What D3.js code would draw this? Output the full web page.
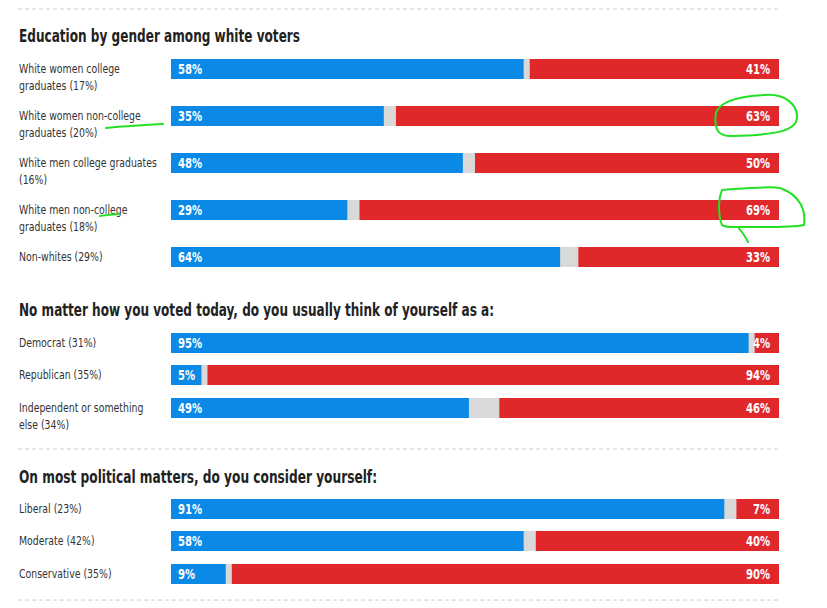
<!DOCTYPE html>
<html><head><meta charset="utf-8">
<script src="https://cdn.jsdelivr.net/npm/d3@7"></script>
<style>body{margin:0;background:#fff} text{font-stretch:condensed}</style></head>
<body><svg id="c" width="827" height="608"></svg>
<script>
const sections = ["Education by gender among white voters","No matter how you voted today, do you usually think of yourself as a:","On most political matters, do you consider yourself:"];
const labels = [
 [["White women college","graduates (17%)"],["White women non-college","graduates (20%)"],["White men college graduates","(16%)"],["White men non-college","graduates (18%)"],["Non-whites (29%)"]],
 [["Democrat (31%)"],["Republican (35%)"],["Independent or something","else (34%)"]],
 [["Liberal (23%)"],["Moderate (42%)"],["Conservative (35%)"]]
];
const dem = [[58,35,48,29,64],[95,5,49],[91,58,9]];
const rep = [[41,63,50,69,33],[4,94,46],[7,40,90]];
const barTops = [[59,106,153,200,247],[333,365,398],[499,531,564]];
const titleY = [36,310,477];
const dashY = [9,449,600];
const titleW = [281,475,358];

const svg = d3.select("#c");
const font = "'DejaVu Sans Condensed','Liberation Sans Narrow','DejaVu Sans',sans-serif";
const x = d3.scaleLinear().domain([0,100]).range([171,779]);
const bh = 20;

// condense a text by its measured width, ratio r
function squeeze(sel, r){ sel.each(function(){ const w=this.getComputedTextLength(); d3.select(this).attr("textLength",w*r).attr("lengthAdjust","spacingAndGlyphs"); }); }

dashY.forEach(y=>svg.append("line").attr("x1",18).attr("x2",780).attr("y1",y).attr("y2",y)
  .attr("stroke","#ccc").attr("stroke-dasharray","4,3"));

sections.forEach((t,si)=>{
  svg.append("text").attr("x",19).attr("y",titleY[si]+6).text(t)
    .attr("font-family",font).attr("font-size",18).attr("font-weight","bold").attr("fill","#222")
    .attr("textLength",titleW[si]).attr("lengthAdjust","spacingAndGlyphs");
  labels[si].forEach((lab,i)=>{
    const y = barTops[si][i];
    svg.append("rect").attr("x",x(0)).attr("y",y).attr("width",x(100)-x(0)).attr("height",bh).attr("fill","#d9d9d9");
    svg.append("rect").attr("x",x(0)).attr("y",y).attr("width",x(dem[si][i])-x(0)).attr("height",bh).attr("fill","#0a89e6");
    svg.append("rect").attr("x",x(100-rep[si][i])).attr("y",y).attr("width",x(100)-x(100-rep[si][i])).attr("height",bh).attr("fill","#e0282b");
    svg.append("text").attr("x",x(0)+7).attr("y",y+15).text(dem[si][i]+"%")
      .attr("font-family",font).attr("font-size",14).attr("font-weight","bold").attr("fill","#fff").call(squeeze,0.8);
    svg.append("text").attr("x",x(100)-9).attr("y",y+15).attr("text-anchor","end").text(rep[si][i]+"%")
      .attr("font-family",font).attr("font-size",14).attr("font-weight","bold").attr("fill","#fff").call(squeeze,0.8);
    lab.forEach((l,k)=>svg.append("text").attr("x",19).attr("y",y+14+k*17).text(l)
      .attr("font-family",font).attr("font-size",13).attr("fill","#333").call(squeeze,0.8));
  });
});

// hand-drawn green annotations
const g = svg.append("g").attr("fill","none").attr("stroke","#22e022").attr("stroke-width",2).attr("stroke-linecap","round");
g.append("path").attr("d","M106,128 C125,126 145,125 163,124");
g.append("path").attr("d","M100,216 C107,215 113,214 119,214");
g.append("path").attr("d","M764,95 C785,93 798,105 797,118 C796,130 780,135 730,136 C716,136 714,126 716,113 C720,100 745,96 764,95");
g.append("path").attr("d","M722,190 C750,188 770,186 780,188 C800,195 806,210 804,225 C790,228 760,227 738,227 C742,232 745,236 748,242 M722,190 C718,200 718,215 722,225 C728,228 734,227 738,227");
</script></body></html>
